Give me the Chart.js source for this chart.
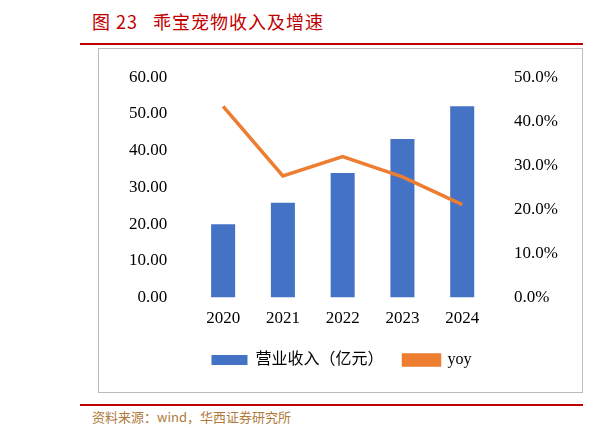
<!DOCTYPE html>
<html><head><meta charset="utf-8">
<script src="https://cdn.jsdelivr.net/npm/chart.js@4"></script>
<style>
body{margin:0;width:597px;height:434px;background:#fff;position:relative;overflow:hidden}
#title{position:absolute;left:92px;top:8px;font:18px "Noto Sans CJK SC";color:#C00000;letter-spacing:1px}
#l1{position:absolute;left:80px;right:14px;top:43px;height:2px;background:#C00000}
#box{position:absolute;left:98px;top:48px;width:485px;height:345px;border:1px solid #bbb;box-sizing:border-box}
#l2{position:absolute;left:80px;right:14px;top:404px;height:2px;background:#C00000}
#src{position:absolute;left:92px;top:407px;font:13px "Noto Sans CJK SC";color:#B07A3A}
</style></head><body>
<div id="title">图 23&nbsp;&nbsp;&nbsp;乖宝宠物收入及增速</div>
<div id="l1"></div>
<div id="box"><canvas id="c" width="483" height="343"></canvas></div>
<div id="l2"></div>
<div id="src">资料来源：wind，华西证券研究所</div>
<script>
const years=['2020','2021','2022','2023','2024'];
const revenue=[20.0,25.8,33.9,43.2,52.1];
const yoy=[43.4,27.6,32.0,27.4,21.1];
const font={family:'"Liberation Serif","Times New Roman",serif',size:17};
new Chart(document.getElementById('c'),{
 data:{labels:years,datasets:[
  {type:'line',label:'yoy',data:yoy,yAxisID:'y1',borderColor:'#ED7D31',backgroundColor:'#ED7D31',borderWidth:3.5,pointRadius:0,order:0},
  {type:'bar',label:'营业收入（亿元）',data:revenue,yAxisID:'y',backgroundColor:'#4472C4',categoryPercentage:0.6,barPercentage:0.67,order:1}
 ]},
 options:{responsive:false,animation:false,
  layout:{padding:{left:12,right:10,top:6,bottom:14}},
  plugins:{tooltip:{enabled:false},legend:{position:'bottom',reverse:true,
   labels:{boxWidth:36,boxHeight:10,color:'#000',padding:20,font:{family:'"Liberation Serif","Noto Sans CJK SC"',size:16}}}},
  scales:{
   x:{grid:{display:false},border:{display:false},ticks:{color:'#000',font}},
   y:{min:0,max:60,ticks:{stepSize:10,color:'#000',font,padding:18,callback:v=>v.toFixed(2)},grid:{display:false},border:{display:false}},
   y1:{position:'right',min:0,max:50,ticks:{stepSize:10,color:'#000',font,padding:14,callback:v=>v.toFixed(1)+'%'},grid:{display:false},border:{display:false}}
  }}
});
</script></body></html>
